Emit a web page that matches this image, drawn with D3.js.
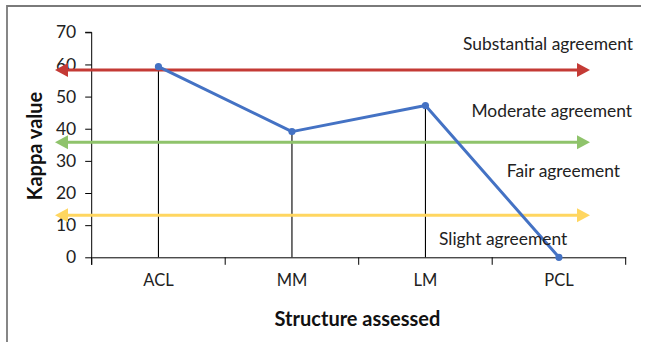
<!DOCTYPE html>
<html><head><meta charset="utf-8">
<script src="https://cdn.jsdelivr.net/npm/d3@7"></script>
<style>
html,body{margin:0;padding:0;background:#fff;}
svg{display:block;font-family:Lato,"Open Sans",sans-serif;}
</style></head>
<body><svg id="c" width="646" height="342"></svg>
<script>
const categories = ["ACL", "MM", "LM", "PCL"];
const kappaValues = [59.3, 39.1, 47.2, 0];
const yTicks = [0, 10, 20, 30, 40, 50, 60, 70];
const thresholdValues = [58.3, 35.8, 13.1];
const thresholdColors = ["#c43a35", "#8fc36b", "#ffd660"];
const agreementLabels = ["Substantial agreement", "Moderate agreement", "Fair agreement", "Slight agreement"];

const svg = d3.select("#c");
const W = 646, H = 342;
const m = {left: 91.7, right: 20.3, top: 32.3, bottom: 84.7};
const x = d3.scaleBand().domain(categories).range([m.left, W - m.right]);
const y = d3.scaleLinear().domain([0, 70]).range([H - m.bottom, m.top]);

// frame
svg.append("path").attr("d", `M7,342 L7,6 L641,6`).attr("fill", "none")
  .attr("stroke", "#7a7a7a").attr("stroke-width", 1.8);

// y axis
const ya = svg.append("g").attr("transform", `translate(${m.left},0)`)
  .call(d3.axisLeft(y).tickValues(yTicks).tickSize(6.5).tickPadding(9));
ya.select(".domain").attr("stroke", "#000").attr("d", `M-6.5,${y(70)}H0V${y(0)+7.5}`);
ya.selectAll("text").attr("font-size", 17.5).attr("fill", "#222").attr("font-family", "Lato");

// x axis
const xa = svg.append("g").attr("transform", `translate(0,${y(0)})`)
  .call(d3.axisBottom(x).tickSize(0).tickPadding(17));
xa.select(".domain").attr("stroke", "#000");
xa.selectAll("text").attr("font-size", 16.5).attr("fill", "#222").attr("font-family", "Lato");
// boundary ticks
const bounds = categories.map(c => x(c)).concat([x(categories[categories.length-1]) + x.bandwidth()]);
xa.selectAll(".btick").data(bounds).enter().append("line")
  .attr("x1", d => d).attr("x2", d => d).attr("y1", 0).attr("y2", 7.5)
  .attr("stroke", "#000");

// drop lines
const cx = d => x(d) + x.bandwidth() / 2;
svg.selectAll(".drop").data(categories).enter().append("line")
  .attr("x1", d => cx(d)).attr("x2", d => cx(d))
  .attr("y1", (d, i) => y(kappaValues[i])).attr("y2", y(0))
  .attr("stroke", "#000").attr("stroke-width", 1.1);

// threshold double arrows
const ax0 = 55, ax1 = 590, ah = 13, hw = 7;
thresholdValues.forEach((v, i) => {
  const yy = y(v), col = thresholdColors[i];
  svg.append("line").attr("x1", ax0 + ah - 1).attr("x2", ax1 - ah + 1)
    .attr("y1", yy).attr("y2", yy).attr("stroke", col).attr("stroke-width", 3);
  svg.append("path").attr("d", `M${ax0},${yy} L${ax0+ah},${yy-hw} L${ax0+ah},${yy+hw} Z`).attr("fill", col);
  svg.append("path").attr("d", `M${ax1},${yy} L${ax1-ah},${yy-hw} L${ax1-ah},${yy+hw} Z`).attr("fill", col);
});

// series line
const line = d3.line().x((d, i) => cx(categories[i])).y(d => y(d));
svg.append("path").datum(kappaValues).attr("d", line).attr("fill", "none")
  .attr("stroke", "#4472c4").attr("stroke-width", 3).attr("stroke-linejoin", "round");
svg.selectAll(".pt").data(kappaValues).enter().append("circle")
  .attr("cx", (d, i) => cx(categories[i])).attr("cy", d => y(d)).attr("r", 3.6)
  .attr("fill", "#4472c4");

// agreement labels
const lab = svg.append("g").attr("font-size", 17.4).attr("fill", "#222").attr("font-family", "Lato");
lab.append("text").attr("x", 633).attr("y", y(64.5)).attr("text-anchor", "end").text(agreementLabels[0]);
lab.append("text").attr("x", 632).attr("y", y(43.6)).attr("text-anchor", "end").text(agreementLabels[1]);
lab.append("text").attr("x", 620).attr("y", y(25)).attr("text-anchor", "end").text(agreementLabels[2]);
lab.append("text").attr("x", 439).attr("y", y(3.8)).attr("text-anchor", "start").text(agreementLabels[3]);

// axis titles
svg.append("text").attr("x", 357.5).attr("y", 326).attr("text-anchor", "middle")
  .attr("font-size", 20).attr("font-weight", "bold").attr("fill", "#111").text("Structure assessed");
svg.append("text").attr("transform", "translate(42,146) rotate(-90)").attr("text-anchor", "middle")
  .attr("font-size", 20).attr("font-weight", "bold").attr("fill", "#111").text("Kappa value");
</script></body></html>
